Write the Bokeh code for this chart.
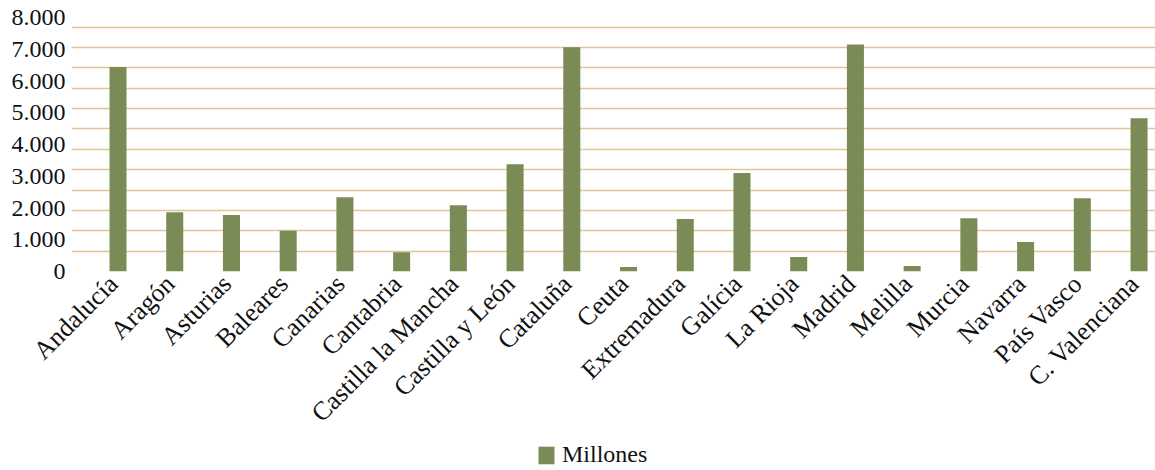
import math
import numpy as np
from bokeh.plotting import figure
from bokeh.layouts import column
from bokeh.models import Range1d, FixedTicker, Legend, LegendItem, ColumnDataSource
from bokeh.embed import file_html
from bokeh.resources import INLINE

# Importe por comunidad autónoma (millones)
regions = [
    "Andalucía", "Aragón", "Asturias", "Baleares", "Canarias", "Cantabria",
    "Castilla la Mancha", "Castilla y León", "Cataluña", "Ceuta", "Extremadura",
    "Galícia", "La Rioja", "Madrid", "Melilla", "Murcia", "Navarra",
    "País Vasco", "C. Valenciana",
]
millones = [
    6440, 1870, 1780, 1280, 2340, 610,
    2090, 3380, 7060, 140, 1650,
    3100, 460, 7150, 170, 1680, 930,
    2310, 4830,
]
series_name = "Millones"

y_ticks = [0, 1000, 2000, 3000, 4000, 5000, 6000, 7000, 8000]
y_tick_labels = ["0", "1.000", "2.000", "3.000", "4.000", "5.000", "6.000", "7.000", "8.000"]

FONT = "Liberation Serif"
BAR = "#7A8B55"
GRID = "#E2C596"
TEXT = "#111111"

positions = list(range(len(regions)))
src = ColumnDataSource(dict(x=positions, top=millones, region=regions))

p = figure(
    width=1155, height=440,
    output_backend="svg", toolbar_location=None,
    x_range=Range1d(-0.82, 18.29), y_range=Range1d(0, 8000),
    min_border_left=71, min_border_right=0,
    min_border_top=17, min_border_bottom=169,
)
p.outline_line_color = None
p.background_fill_color = "white"
p.border_fill_color = "white"

# horizontal guide lines: 12 equal bands up to the top line
grid_top = 7700
grid_lines = [grid_top * i / 12 for i in range(13)]
p.xgrid.visible = False
p.ygrid.ticker = FixedTicker(ticks=grid_lines)
p.ygrid.grid_line_color = GRID
p.ygrid.grid_line_width = 1.5

r = p.vbar(x="x", top="top", bottom=0, width=0.3, source=src,
           fill_color=BAR, line_color=None)

# y axis
p.yaxis.ticker = FixedTicker(ticks=y_ticks)
p.yaxis.major_label_overrides = dict(zip(y_ticks, y_tick_labels))
p.yaxis.axis_line_color = None
p.yaxis.major_tick_line_color = None
p.yaxis.minor_tick_line_color = None
p.yaxis.major_tick_out = 0
p.yaxis.major_label_standoff = 6
p.yaxis.major_label_text_font = FONT
p.yaxis.major_label_text_font_size = "24px"
p.yaxis.major_label_text_color = TEXT

# x axis with rotated region names (anchors nudged so the end of each
# name sits under its bar)
label_shift = -0.08
label_ticks = [round(i + label_shift, 2) for i in positions]
p.xaxis.ticker = FixedTicker(ticks=label_ticks)
p.xaxis.major_label_overrides = dict(zip(label_ticks, regions))
p.xaxis.major_label_orientation = math.pi / 4
p.xaxis.axis_line_color = None
p.xaxis.major_tick_line_color = None
p.xaxis.minor_tick_line_color = None
p.xaxis.major_tick_out = 0
p.xaxis.major_label_standoff = 8
p.xaxis.major_label_text_font = FONT
p.xaxis.major_label_text_font_size = "26px"
p.xaxis.major_label_text_color = TEXT

# legend strip underneath (its frame lines up with the chart frame)
pl = figure(
    width=1155, height=30,
    output_backend="svg", toolbar_location=None,
    x_range=Range1d(0, 1), y_range=Range1d(0, 1),
    min_border=0, min_border_left=71,
)
pl.axis.visible = False
pl.grid.visible = False
pl.outline_line_color = None
pl.background_fill_color = "white"
pl.border_fill_color = "white"
# swatch-only renderer: a NaN bar draws nothing, its legend entry does
rl = pl.vbar(x=np.array([np.nan]), top=np.array([np.nan]), width=0.3,
             fill_color=BAR, line_color=None)

legend = Legend(
    items=[LegendItem(label=series_name, renderers=[rl])],
    location=(465, 2), orientation="horizontal",
    border_line_color=None, background_fill_alpha=0,
    padding=0, margin=0, glyph_width=20, glyph_height=22,
    label_standoff=6, label_height=18,
    label_text_font=FONT, label_text_font_size="24px",
    label_text_color=TEXT,
)
pl.add_layout(legend, "center")

layout = column(p, pl, spacing=0)
open("out.html", "w").write(file_html(layout, INLINE))
